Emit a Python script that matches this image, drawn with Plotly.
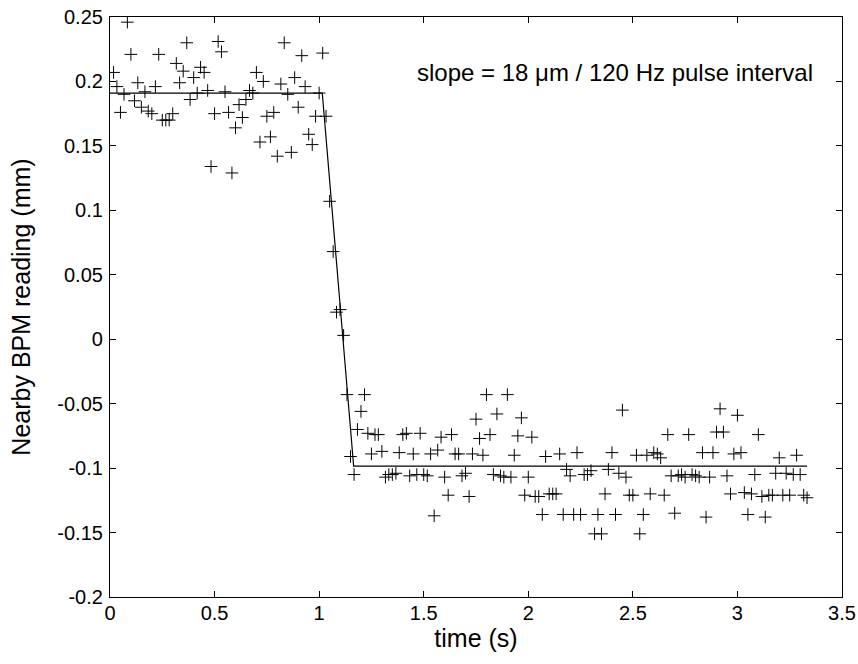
import plotly.graph_objects as go

# Sample times (s), 60 Hz readings
times = [
    0.017, 0.033, 0.05, 0.067, 0.083, 0.1,
    0.117, 0.133, 0.15, 0.167, 0.183, 0.2,
    0.217, 0.233, 0.25, 0.267, 0.283, 0.3,
    0.317, 0.333, 0.35, 0.367, 0.383, 0.4,
    0.417, 0.433, 0.45, 0.467, 0.483, 0.5,
    0.517, 0.533, 0.55, 0.567, 0.583, 0.6,
    0.617, 0.633, 0.65, 0.667, 0.683, 0.7,
    0.717, 0.733, 0.75, 0.767, 0.783, 0.8,
    0.817, 0.833, 0.85, 0.867, 0.883, 0.9,
    0.917, 0.933, 0.95, 0.967, 0.983, 1.0,
    1.017, 1.033, 1.05, 1.067, 1.083, 1.1,
    1.117, 1.133, 1.15, 1.167, 1.183, 1.2,
    1.217, 1.233, 1.25, 1.267, 1.283, 1.3,
    1.317, 1.333, 1.35, 1.367, 1.383, 1.4,
    1.417, 1.433, 1.45, 1.467, 1.483, 1.5,
    1.517, 1.533, 1.55, 1.567, 1.583, 1.6,
    1.617, 1.633, 1.65, 1.667, 1.683, 1.7,
    1.717, 1.733, 1.75, 1.767, 1.783, 1.8,
    1.817, 1.833, 1.85, 1.867, 1.883, 1.9,
    1.917, 1.933, 1.95, 1.967, 1.983, 2.0,
    2.017, 2.033, 2.05, 2.067, 2.083, 2.1,
    2.117, 2.133, 2.15, 2.167, 2.183, 2.2,
    2.217, 2.233, 2.25, 2.267, 2.283, 2.3,
    2.317, 2.333, 2.35, 2.367, 2.383, 2.4,
    2.417, 2.433, 2.45, 2.467, 2.483, 2.5,
    2.517, 2.533, 2.55, 2.567, 2.583, 2.6,
    2.617, 2.633, 2.65, 2.667, 2.683, 2.7,
    2.717, 2.733, 2.75, 2.767, 2.783, 2.8,
    2.817, 2.833, 2.85, 2.867, 2.883, 2.9,
    2.917, 2.933, 2.95, 2.967, 2.983, 3.0,
    3.017, 3.033, 3.05, 3.067, 3.083, 3.1,
    3.117, 3.133, 3.15, 3.167, 3.183, 3.2,
    3.217, 3.233, 3.25, 3.267, 3.283, 3.3,
    3.317, 3.333,
]

# BPM readings (mm)
bpm_readings = [
    0.207, 0.196, 0.176, 0.190, 0.246, 0.221,
    0.185, 0.199, 0.180, 0.192, 0.177, 0.175,
    0.196, 0.221, 0.170, 0.170, 0.170, 0.175,
    0.214, 0.199, 0.208, 0.230, 0.186, 0.203,
    0.191, 0.211, 0.207, 0.193, 0.134, 0.175,
    0.231, 0.223, 0.192, 0.176, 0.129, 0.164,
    0.182, 0.172, 0.186, 0.193, 0.191, 0.207,
    0.153, 0.200, 0.173, 0.157, 0.176, 0.142,
    0.198, 0.230, 0.190, 0.145, 0.203, 0.180,
    0.220, 0.196, 0.159, 0.151, 0.173, 0.191,
    0.222, 0.173, 0.107, 0.068, 0.021, 0.023,
    0.003, -0.043, -0.091, -0.105, -0.070, -0.056,
    -0.043, -0.073, -0.089, -0.074, -0.074, -0.087,
    -0.107, -0.105, -0.105, -0.104, -0.088, -0.074,
    -0.073, -0.106, -0.089, -0.105, -0.073, -0.105,
    -0.106, -0.089, -0.137, -0.086, -0.076, -0.107,
    -0.121, -0.074, -0.089, -0.089, -0.106, -0.104,
    -0.122, -0.089, -0.062, -0.077, -0.090, -0.043,
    -0.074, -0.105, -0.058, -0.106, -0.107, -0.043,
    -0.107, -0.090, -0.075, -0.061, -0.121, -0.107,
    -0.076, -0.122, -0.122, -0.136, -0.091, -0.120,
    -0.120, -0.120, -0.089, -0.136, -0.101, -0.106,
    -0.136, -0.088, -0.136, -0.105, -0.105, -0.102,
    -0.151, -0.136, -0.151, -0.120, -0.101, -0.088,
    -0.136, -0.104, -0.055, -0.107, -0.121, -0.121,
    -0.090, -0.151, -0.136, -0.090, -0.120, -0.088,
    -0.089, -0.092, -0.121, -0.074, -0.106, -0.135,
    -0.106, -0.105, -0.107, -0.074, -0.105, -0.106,
    -0.107, -0.088, -0.138, -0.107, -0.088, -0.072,
    -0.054, -0.072, -0.106, -0.120, -0.089, -0.059,
    -0.088, -0.119, -0.136, -0.120, -0.105, -0.074,
    -0.122, -0.138, -0.121, -0.121, -0.104, -0.092,
    -0.121, -0.104, -0.121, -0.105, -0.090, -0.105,
    -0.121, -0.123,
]

# Piecewise linear fit
fit_times = [0.0, 1.015, 1.165, 3.333]
fit_values = [0.191, 0.191, -0.0985, -0.0985]

x_ticks = [0, 0.5, 1, 1.5, 2, 2.5, 3, 3.5]
x_tick_labels = ["0", "0.5", "1", "1.5", "2", "2.5", "3", "3.5"]
y_ticks = [0.25, 0.2, 0.15, 0.1, 0.05, 0, -0.05, -0.1, -0.15, -0.2]
y_tick_labels = ["0.25", "0.2", "0.15", "0.1", "0.05", "0", "-0.05", "-0.1", "-0.15", "-0.2"]

annotation_text = "slope = 18 \u03bcm / 120 Hz pulse interval"

FONT = "Liberation Sans, Arial, Helvetica, sans-serif"

fig = go.Figure()
fig.add_trace(go.Scatter(
    x=fit_times, y=fit_values, mode="lines",
    line=dict(color="black", width=1.2), showlegend=False, hoverinfo="skip",
))
fig.add_trace(go.Scatter(
    x=times, y=bpm_readings, mode="markers",
    marker=dict(symbol="cross-thin-open", size=9, color="black",
                line=dict(color="black", width=1)),
    showlegend=False,
))

fig.add_annotation(
    x=1.459, y=0.2066, xref="x", yref="y", text=annotation_text,
    showarrow=False, xanchor="left", yanchor="middle",
    font=dict(family=FONT, size=24, color="black"),
)

axis_common = dict(
    showline=True, linecolor="black", linewidth=1.2, mirror="ticks",
    ticks="inside", ticklen=6, tickwidth=1, tickcolor="black",
    showgrid=False, zeroline=False, automargin=False,
    ticklabeloverflow="allow",
    tickfont=dict(family=FONT, size=20, color="black"),
)

fig.update_xaxes(
    range=[0, 3.5], tickvals=x_ticks, ticktext=x_tick_labels,
    ticklabelstandoff=-2,
    title=dict(text="time (s)", font=dict(family=FONT, size=25, color="black"), standoff=0),
    **axis_common,
)
fig.update_yaxes(
    range=[-0.2, 0.25], tickvals=y_ticks, ticktext=y_tick_labels,
    ticklabelstandoff=2,
    title=dict(text="Nearby BPM reading (mm)", font=dict(family=FONT, size=25, color="black"), standoff=19),
    **axis_common,
)

fig.update_layout(
    width=858, height=664,
    margin=dict(l=110, r=16, t=17, b=67),
    paper_bgcolor="white", plot_bgcolor="white",
    font=dict(family=FONT, color="black"),
)

# Remove the browser's default body margin so the figure fills the window.
fig.write_html("out.html", config={"displayModeBar": False},
               post_script="document.body.style.margin='0';")
